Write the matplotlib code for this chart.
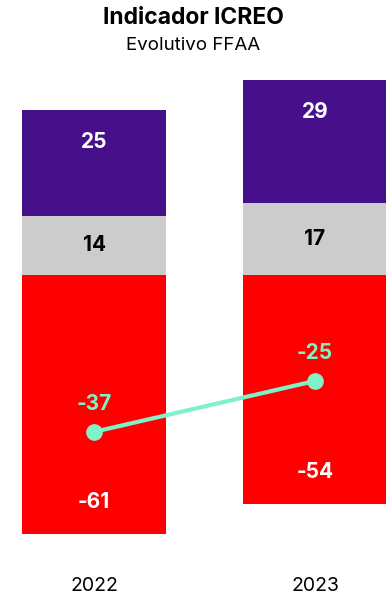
import numpy as np
import matplotlib.pyplot as plt

plt.rcParams['font.family'] = ['Inter', 'DejaVu Sans']

# ICREO indicator by year
years = ['2022', '2023']
negativo = [-61, -54]
neutro = [14, 17]
positivo = [25, 29]
icreo = [-37, -25]

c_neg = '#ff0000'
c_neu = '#cccccc'
c_pos = '#45108a'
c_line = '#7ff2c9'

fig = plt.figure(figsize=(3.86, 5.94), dpi=100)
# axes spans pixel rows 64..549 of the figure
ax = fig.add_axes([0, 45 / 594, 1, 485 / 594])

x = np.arange(len(years))
w = 0.65
ax.bar(x, negativo, w, color=c_neg)
ax.bar(x, neutro, w, color=c_neu)
ax.bar(x, positivo, w, bottom=neutro, color=c_pos)
ax.plot(x, icreo, color=c_line, lw=3, marker='o', ms=11, zorder=3)

pxu = 4.24  # pixels per unit
zero = 275  # pixel row of y=0
off = 32 / pxu
lab = dict(ha='center', va='center', fontsize=15, fontweight='bold')
for i in range(len(years)):
    ax.text(x[i], negativo[i] + off, f'{negativo[i]}', color='white', **lab)
    ax.text(x[i], neutro[i] / 2, f'{neutro[i]}', color='black', **lab)
    ax.text(x[i], neutro[i] + positivo[i] - off, f'{positivo[i]}', color='white', **lab)
    ax.text(x[i], icreo[i] + 28 / pxu, f'{icreo[i]}', color=c_line, **lab)

ax.set_xlim(-94 / 221, 292 / 221)
ax.set_ylim(-(549 - zero) / pxu, (zero - 64) / pxu)
ax.set_xticks(x)
ax.set_xticklabels(years, fontsize=14)
ax.tick_params(axis='x', length=0, pad=20)
ax.set_yticks([])
for s in ax.spines.values():
    s.set_visible(False)

fig.text(0.5, 1 - 18 / 594, 'Indicador ICREO', ha='center', va='center',
         fontsize=16.5, fontweight='bold')
fig.text(0.5, 1 - 45 / 594, 'Evolutivo FFAA', ha='center', va='center', fontsize=13.5)

fig.savefig('out.png', dpi=100)
